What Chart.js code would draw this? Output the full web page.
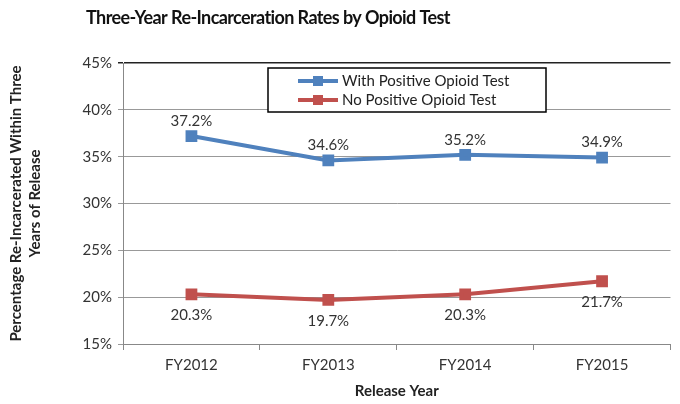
<!DOCTYPE html>
<html>
<head>
<meta charset="utf-8">
<script src="https://cdn.jsdelivr.net/npm/chart.js@4/dist/chart.umd.min.js"></script>
<style>
  body { margin: 0; background: #fff; }
  #wrap { width: 680px; height: 404px; }
</style>
</head>
<body>
<div id="wrap"><canvas id="chart" width="680" height="404"></canvas></div>
<script>
const years = ["FY2012", "FY2013", "FY2014", "FY2015"];
const withOpioid = [37.2, 34.6, 35.2, 34.9];
const noOpioid = [20.3, 19.7, 20.3, 21.7];
const yTicks = [15, 20, 25, 30, 35, 40, 45];

const FONT = "Lato, 'Open Sans', sans-serif";
const BLUE = "#4F81BD";
const RED = "#C0504D";

// title drawn by hand so it can sit left of centre like the original
const titlePlugin = {
  id: "titleText",
  afterDraw(chart) {
    const ctx = chart.ctx;
    ctx.save();
    ctx.font = "bold 18px " + FONT;
    ctx.fillStyle = "#111";
    ctx.textAlign = "center";
    ctx.textBaseline = "middle";
    ctx.letterSpacing = "-0.6px";
    ctx.fillText("Three-Year Re-Incarceration Rates by Opioid Test", 268, 18);
    ctx.restore();
  }
};

// value labels: above the blue line, below the red one
const labelPlugin = {
  id: "valueLabels",
  afterDatasetsDraw(chart) {
    const ctx = chart.ctx;
    ctx.save();
    ctx.font = "15px " + FONT;
    ctx.fillStyle = "#333";
    ctx.textAlign = "center";
    ctx.textBaseline = "middle";
    chart.data.datasets.forEach((ds, i) => {
      const meta = chart.getDatasetMeta(i);
      meta.data.forEach((pt, j) => {
        const dy = i === 0 ? -15 : 21;
        ctx.fillText(ds.data[j].toFixed(1) + "%", pt.x, pt.y + dy);
      });
    });
    ctx.restore();
  }
};

// boxed legend inside the plot
const legendPlugin = {
  id: "boxLegend",
  afterDatasetsDraw(chart) {
    const ctx = chart.ctx;
    const x = 268, y = 68, w = 278, h = 44;
    ctx.save();
    ctx.fillStyle = "#fff";
    ctx.fillRect(x, y, w, h);
    ctx.strokeStyle = "#000";
    ctx.lineWidth = 1.5;
    ctx.strokeRect(x, y, w, h);
    ctx.font = "15px " + FONT;
    ctx.textBaseline = "middle";
    chart.data.datasets.forEach((ds, i) => {
      const cy = y + 13 + i * 19;
      ctx.strokeStyle = ds.borderColor;
      ctx.lineWidth = 4;
      ctx.beginPath();
      ctx.moveTo(298, cy);
      ctx.lineTo(338, cy);
      ctx.stroke();
      ctx.fillStyle = ds.borderColor;
      ctx.fillRect(313, cy - 5, 10, 10);
      ctx.fillStyle = "#222";
      ctx.fillText(ds.label, 342, cy);
    });
    ctx.restore();
  }
};

new Chart(document.getElementById("chart"), {
  type: "line",
  data: {
    labels: years,
    datasets: [
      {
        label: "With Positive Opioid Test",
        data: withOpioid,
        borderColor: BLUE,
        backgroundColor: BLUE,
        borderWidth: 4,
        pointStyle: "rect",
        pointRadius: 5.5,
        pointHoverRadius: 5.5,
        tension: 0
      },
      {
        label: "No Positive Opioid Test",
        data: noOpioid,
        borderColor: RED,
        backgroundColor: RED,
        borderWidth: 4,
        pointStyle: "rect",
        pointRadius: 5.5,
        pointHoverRadius: 5.5,
        tension: 0
      }
    ]
  },
  options: {
    responsive: false,
    animation: false,
    layout: { padding: { top: 63, right: 0, left: 0, bottom: 0 } },
    plugins: {
      legend: { display: false },
      tooltip: { enabled: false }
    },
    scales: {
      x: {
        offset: true,
        grid: {
          offset: true,
          drawOnChartArea: false,
          drawTicks: true,
          tickLength: 6,
          color: "#888"
        },
        border: { color: "#888", width: 1 },
        ticks: { color: "#333", font: { family: FONT, size: 15 }, padding: 6 },
        title: {
          display: true,
          text: "Release Year",
          color: "#222",
          font: { family: FONT, size: 15, weight: "bold" },
          padding: { top: 4 }
        },
        afterFit(scale) { scale.height = 60; }
      },
      y: {
        min: 15,
        max: 45,
        afterBuildTicks(scale) {
          scale.ticks = yTicks.map(v => ({ value: v }));
        },
        grid: {
          color: ctx => (ctx.tick && ctx.tick.value === 45 ? "#222" : "#999"),
          lineWidth: ctx => (ctx.tick && ctx.tick.value === 45 ? 1.5 : 1),
          tickLength: 5
        },
        border: { color: "#888", width: 1 },
        ticks: {
          color: "#333",
          font: { family: FONT, size: 15 },
          padding: 6,
          callback: v => v + "%"
        },
        title: {
          display: true,
          text: ["Percentage Re-Incarcerated Within Three", "Years of Release"],
          color: "#222",
          font: { family: FONT, size: 15, weight: "bold", lineHeight: 1.3 },
          padding: { top: 6, bottom: 10 }
        },
        afterFit(scale) { scale.width = 123; }
      }
    }
  },
  plugins: [titlePlugin, labelPlugin, legendPlugin]
});
</script>
</body>
</html>
